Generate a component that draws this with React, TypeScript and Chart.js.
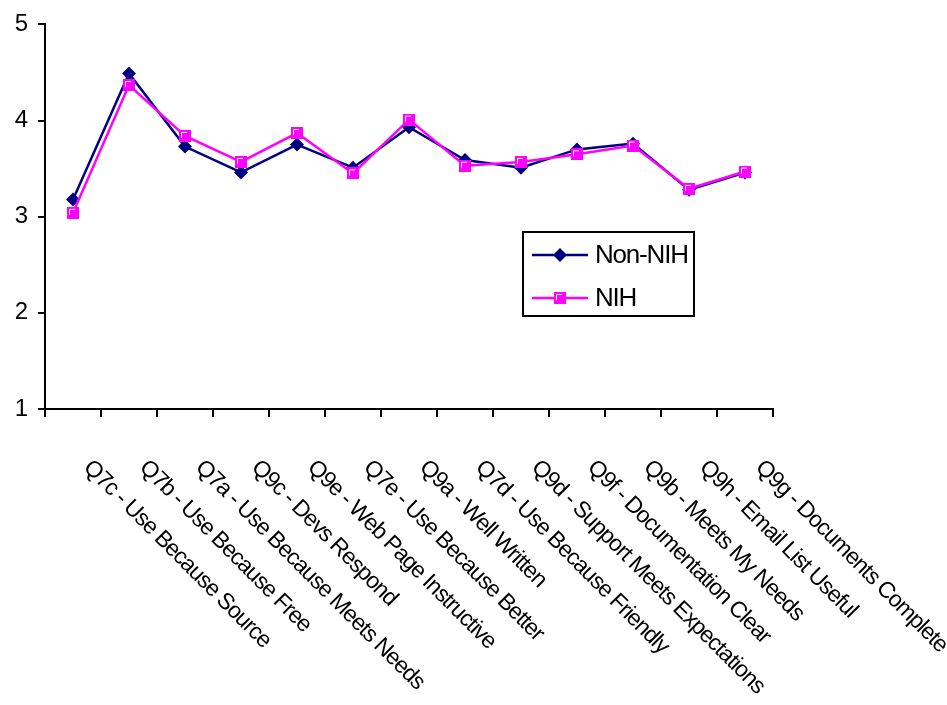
import React, { useEffect, useRef } from "react";
import { Chart, registerables } from "chart.js";

Chart.register(...registerables);

const categories = [
  "Q7c - Use Because Source",
  "Q7b - Use Because Free",
  "Q7a - Use Because Meets Needs",
  "Q9c - Devs Respond",
  "Q9e - Web Page Instructive",
  "Q7e - Use Because Better",
  "Q9a - Well Written",
  "Q7d - Use Because Friendly",
  "Q9d - Support Meets Expectations",
  "Q9f - Documentation Clear",
  "Q9b - Meets My Needs",
  "Q9h - Email List Useful",
  "Q9g - Documents Complete",
];

const nonNih = [3.18, 4.49, 3.73, 3.46, 3.75, 3.51, 3.93, 3.59, 3.51, 3.7, 3.76, 3.28, 3.46];
const nih = [3.04, 4.37, 3.84, 3.57, 3.87, 3.45, 4.01, 3.53, 3.57, 3.65, 3.74, 3.29, 3.47];

const yTicks = [1, 2, 3, 4, 5];
const seriesNames = ["Non-NIH", "NIH"];

const NAVY = "#000080";
const MAGENTA = "#FF00FF";
const FONT = "'Liberation Sans', Arial, sans-serif";

function makeSquare(): HTMLCanvasElement {
  const c = document.createElement("canvas");
  c.width = 12;
  c.height = 12;
  const g = c.getContext("2d")!;
  g.fillStyle = MAGENTA;
  g.fillRect(0, 0, 12, 12);
  g.strokeStyle = "#FFFFFF";
  g.lineWidth = 1;
  g.beginPath();
  g.moveTo(2.5, 8);
  g.lineTo(2.5, 2.5);
  g.lineTo(8, 2.5);
  g.stroke();
  return c;
}

export default function App() {
  const ref = useRef<HTMLCanvasElement>(null);

  useEffect(() => {
    const square = makeSquare();

    const xLabelsPlugin = {
      id: "xLabels",
      afterDraw(chart: any) {
        const ctx = chart.ctx;
        const xs = chart.scales.x;
        const bottom = chart.chartArea.bottom;
        ctx.save();
        ctx.fillStyle = "#000";
        ctx.font = `23px ${FONT}`;
        try { (ctx as any).letterSpacing = "-1px"; } catch (e) {}
        ctx.textAlign = "left";
        ctx.textBaseline = "middle";
        categories.forEach((lab, i) => {
          const x = xs.getPixelForTick(i);
          ctx.save();
          ctx.translate(x + 14, bottom + 55);
          ctx.rotate(Math.PI / 4);
          ctx.fillText(lab, 0, 0);
          ctx.restore();
        });
        try { (ctx as any).letterSpacing = "0px"; } catch (e) {}
        ctx.restore();
      },
    };

    const legendPlugin = {
      id: "customLegend",
      afterDraw(chart: any) {
        const ctx = chart.ctx;
        ctx.save();
        ctx.strokeStyle = "#000";
        ctx.lineWidth = 2;
        ctx.strokeRect(523, 232, 171, 84);
        const rows = [
          { y: 255, color: NAVY, name: seriesNames[0], marker: "diamond" },
          { y: 298, color: MAGENTA, name: seriesNames[1], marker: "square" },
        ];
        rows.forEach((r) => {
          ctx.strokeStyle = r.color;
          ctx.lineWidth = 2.5;
          ctx.beginPath();
          ctx.moveTo(532, r.y);
          ctx.lineTo(588, r.y);
          ctx.stroke();
          if (r.marker === "diamond") {
            ctx.fillStyle = NAVY;
            ctx.beginPath();
            ctx.moveTo(560, r.y - 7);
            ctx.lineTo(567, r.y);
            ctx.lineTo(560, r.y + 7);
            ctx.lineTo(553, r.y);
            ctx.closePath();
            ctx.fill();
          } else {
            ctx.drawImage(square, 554, r.y - 6, 12, 12);
          }
          ctx.fillStyle = "#000";
          ctx.font = `26px ${FONT}`;
          try { (ctx as any).letterSpacing = "-1.2px"; } catch (e) {}
          ctx.textAlign = "left";
          ctx.textBaseline = "middle";
          ctx.fillText(r.name, 595, r.y + 1);
          try { (ctx as any).letterSpacing = "0px"; } catch (e) {}
        });
        ctx.restore();
      },
    };

    const chart = new Chart(ref.current!, {
      type: "line",
      data: {
        labels: categories,
        datasets: [
          {
            label: seriesNames[0],
            data: nonNih,
            borderColor: NAVY,
            backgroundColor: NAVY,
            borderWidth: 2.5,
            pointStyle: "rectRot",
            pointRadius: 7,
            pointBorderWidth: 0,
            pointBackgroundColor: NAVY,
            tension: 0,
            order: 1,
          },
          {
            label: seriesNames[1],
            data: nih,
            borderColor: MAGENTA,
            backgroundColor: MAGENTA,
            borderWidth: 2.5,
            pointStyle: square as any,
            pointRadius: 7,
            tension: 0,
            order: 0,
          },
        ],
      },
      options: {
        responsive: false,
        animation: false,
        events: [],
        layout: {
          autoPadding: false,
          padding: { left: 0, top: 20, right: 174, bottom: 288 },
        },
        plugins: {
          legend: { display: false },
          tooltip: { enabled: false },
          title: { display: false },
        },
        scales: {
          x: {
            type: "category",
            offset: true,
            grid: {
              display: true,
              offset: true,
              drawOnChartArea: false,
              drawTicks: true,
              tickLength: 8,
              color: "#000",
              lineWidth: 2,
            },
            border: { display: true, color: "#000", width: 2 },
            ticks: { display: false },
            afterFit(scale: any) {
              scale.height = 8;
            },
          },
          y: {
            min: yTicks[0],
            max: yTicks[yTicks.length - 1],
            afterBuildTicks(scale: any) {
              scale.ticks = yTicks.map((v) => ({ value: v }));
            },
            grid: {
              display: true,
              drawOnChartArea: false,
              drawTicks: true,
              tickLength: 7,
              color: "#000",
              lineWidth: 2,
            },
            border: { display: true, color: "#000", width: 2 },
            ticks: {
              color: "#000",
              font: { size: 24, family: FONT },
              padding: 10,
              stepSize: 1,
            },
            afterFit(scale: any) {
              scale.width = 45;
            },
          },
        },
      },
      plugins: [xLabelsPlugin, legendPlugin],
    });
    return () => chart.destroy();
  }, []);

  return (
    <div style={{ position: "fixed", left: 0, top: 0, width: 947, height: 705, background: "#fff" }}>
      <canvas ref={ref} width={947} height={705} style={{ display: "block" }} />
    </div>
  );
}
